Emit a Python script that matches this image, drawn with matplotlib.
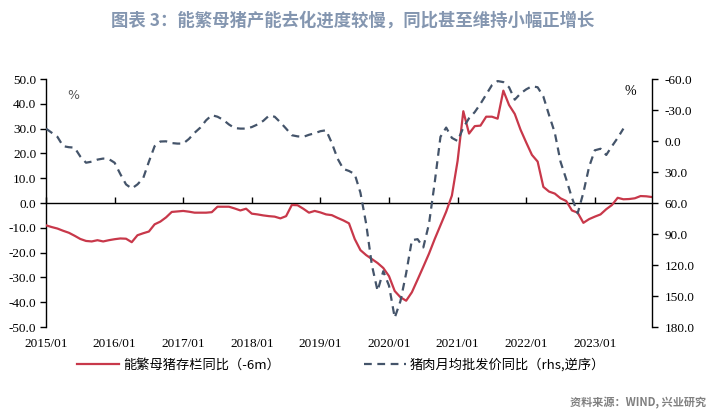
import numpy as np
import pandas as pd
import matplotlib
matplotlib.use("Agg")
import matplotlib.pyplot as plt

plt.rcParams['font.family'] = ['Noto Sans CJK SC', 'DejaVu Sans']

# months from 2015/01
months = pd.period_range('2015-01', periods=107, freq='M')

# 能繁母猪存栏同比（-6m），left axis, %
sow = [-9.0, -9.7, -10.3, -11.2, -12.0, -13.2, -14.5, -15.3, -15.5, -15.0,
       -15.5, -15.0, -14.6, -14.3, -14.4, -15.8, -13.0, -12.2, -11.5, -8.6,
       -7.5, -5.8, -3.6, -3.4, -3.2, -3.5, -3.9, -3.9, -3.9, -3.7,
       -1.5, -1.5, -1.5, -2.2, -3.0, -2.3, -4.3, -4.6, -5.0, -5.3,
       -5.5, -6.2, -5.3, -0.8, -0.9, -2.3, -3.9, -3.2, -3.8, -4.6,
       -4.9, -6.0, -7.0, -8.2, -14.5, -19.0, -21.0, -22.6, -24.2, -26.2,
       -29.5, -35.5, -38.0, -39.4, -36.0, -30.9, -25.7, -20.4, -14.5, -9.0,
       -3.5, 3.0, 17.0, 37.0, 28.0, 31.0, 31.2, 34.8, 34.8, 34.0,
       45.3, 39.5, 35.9, 29.6, 24.4, 19.4, 16.7, 6.5, 4.6, 3.8,
       1.9, 0.8, -3.0, -3.9, -8.0, -6.5, -5.5, -4.6, -2.5, -0.8,
       2.1, 1.5, 1.6, 1.9, 2.8, 2.7, 2.4]

# 猪肉月均批发价同比（rhs, 逆序）, right axis, %
pork = [-12.0, -8.0, -4.0, 5.0, 6.0, 6.4, 15.0, 21.0, 20.0, 18.0,
        17.0, 17.5, 21.0, 32.0, 42.0, 46.0, 42.0, 36.0, 20.0, 5.0,
        0.5, 0.3, 2.0, 2.5, 2.5, -2.0, -8.0, -13.0, -20.0, -25.0,
        -23.5, -20.5, -16.0, -12.5, -12.0, -12.0, -13.5, -16.0, -19.5, -24.5,
        -23.5, -18.0, -12.0, -5.6, -4.5, -4.0, -6.0, -7.5, -9.5, -10.4,
        2.0, 17.0, 27.0, 29.0, 32.0, 50.0, 80.0, 120.0, 145.0, 126.0,
        140.0, 171.0, 155.0, 128.0, 96.0, 95.0, 103.0, 80.0, 40.0, -4.0,
        -13.0, -3.0, 0.0, -13.0, -22.0, -28.0, -36.0, -45.0, -54.0, -58.0,
        -57.0, -52.0, -40.0, -46.0, -50.0, -53.0, -52.0, -43.0, -25.0, -8.0,
        20.0, 37.0, 55.0, 70.0, 50.0, 25.0, 9.0, 7.5, 13.5, 5.0,
        -3.0, -12.0]

left_ticks = np.arange(-50, 51, 10)
right_ticks = np.arange(-60, 181, 30)
year_idx = list(range(0, 107, 12))
year_labels = [str(months[i]).replace('-', '/') for i in year_idx]

red = '#C8384A'
blue = '#44546A'

fig = plt.figure(figsize=(7.12, 4.18), dpi=100)
ax = fig.add_axes([0.0646, 0.2177, 0.8511, 0.5933])
ax2 = ax.twinx()

x = np.arange(len(sow))
l1, = ax.plot(x, sow, color=red, lw=1.6, zorder=3)
l2, = ax2.plot(np.arange(len(pork)), pork, color=blue, lw=1.6,
               dashes=(3.5, 2.5), zorder=2)

ax.set_xlim(0, len(sow) - 1)
ax.set_ylim(-50, 50)
ax2.set_ylim(180, -60)
ax.set_yticks(left_ticks)
ax.set_yticklabels([f'{v:.1f}' for v in left_ticks], family='Liberation Serif', fontsize=9.5)
ax2.set_yticks(right_ticks)
ax2.set_yticklabels([f'{v:.1f}' for v in right_ticks], family='Liberation Serif', fontsize=9.5)

for a in (ax, ax2):
    a.spines['top'].set_visible(False)
ax.spines['right'].set_visible(False)
ax2.spines['left'].set_visible(False)
ax2.spines['bottom'].set_visible(False)
ax.spines['bottom'].set_position(('data', 0))
ax.spines['left'].set_linewidth(1.0)
ax2.spines['right'].set_linewidth(1.0)
ax.spines['bottom'].set_linewidth(1.0)

ax.tick_params(axis='y', direction='out', length=4, width=1, pad=3)
ax2.tick_params(axis='y', direction='out', length=4, width=1, pad=5)
ax.set_xticks(year_idx)
ax.set_xticklabels([])
ax.tick_params(axis='x', direction='in', length=4, width=1)
for i, lab in zip(year_idx, year_labels):
    ax.text(i, -0.045, lab, transform=ax.get_xaxis_transform(), ha='center', va='top',
            family='Liberation Serif', fontsize=9.5)

ax.text(0.035, 0.935, '%', transform=ax.transAxes, fontsize=9, color='#595959',
        family='DejaVu Sans', va='center')
ax.text(0.955, 0.95, '%', transform=ax.transAxes, fontsize=10, color='black',
        family='Liberation Serif', va='center')

fig.text(0.495, 0.952, '图表 3：能繁母猪产能去化进度较慢，同比甚至维持小幅正增长',
         ha='center', va='center', fontsize=12.5, fontweight='bold', color='#8496B0')

# two legend entries placed separately, as in the original layout
leg_kw = dict(loc='center left', frameon=False, fontsize=9.5, handlelength=3.2,
              handletextpad=0.3, borderpad=0, borderaxespad=0)
fig.legend([l1], ['能繁母猪存栏同比（-6m）'], bbox_to_anchor=(0.108, 0.127), **leg_kw)
fig.legend([l2], ['猪肉月均批发价同比（rhs,逆序）'], bbox_to_anchor=(0.511, 0.127), **leg_kw)

fig.text(0.992, 0.036, '资料来源：WIND, 兴业研究', ha='right', va='center',
         fontsize=8, fontweight='bold', color='#808080')

fig.savefig('out.png', dpi=100)
